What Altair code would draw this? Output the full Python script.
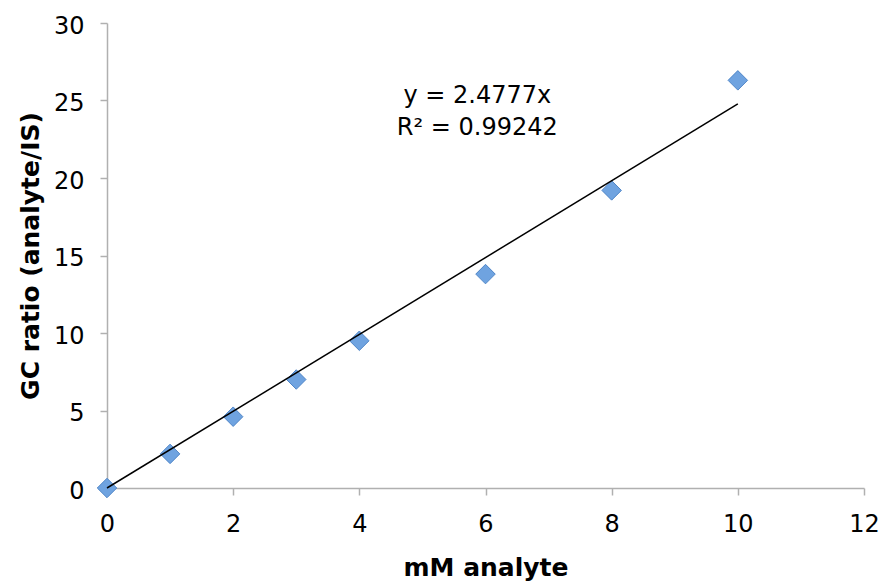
import altair as alt
import pandas as pd

# data
conc = [0, 1, 2, 3, 4, 6, 8, 10]
ratio = [0.0, 2.2, 4.6, 7.0, 9.5, 13.8, 19.2, 26.3]
slope = 2.4777
r2 = 0.99242
eq_lines = [f"y = {slope}x", f"R² = {r2}"]
eq_x = [5.87, 5.87]
eq_y = [25.3, 23.2]

pts = pd.DataFrame({"x": conc, "y": ratio})
fit = pd.DataFrame({"x": [min(conc), max(conc)], "y": [slope * min(conc), slope * max(conc)]})
ann = pd.DataFrame({"x": eq_x, "y": eq_y, "t": eq_lines})

FONT = "DejaVu Sans"
AXC = "#b0b0b0"

xs = alt.Scale(domain=[0, 12], nice=False, zero=True)
ys = alt.Scale(domain=[0, 30], nice=False, zero=True)

common = dict(grid=False, format="d", labelFlush=False,
              labelFontSize=24, labelFont=FONT, labelColor="black",
              titleFontSize=25, titleFont=FONT, titleFontWeight="bold", titleColor="black",
              domainColor=AXC, tickColor=AXC, tickSize=7, domainWidth=1.5, tickWidth=1.5)

xaxis = alt.Axis(values=list(range(0, 13, 2)), title="mM analyte",
                 labelPadding=17, titlePadding=19, **common)
yaxis = alt.Axis(values=list(range(0, 31, 5)), title="GC ratio (analyte/IS)",
                 labelPadding=16, titlePadding=10, labelOffset=3, **common)

line = alt.Chart(fit).mark_line(color="black", strokeWidth=1.5).encode(
    x=alt.X("x:Q", scale=xs, axis=xaxis),
    y=alt.Y("y:Q", scale=ys, axis=yaxis),
)

points = alt.Chart(pts).mark_point(shape="diamond", size=380, filled=True,
                                   fill="#6fa3e0", stroke="#5086c8", strokeWidth=1,
                                   opacity=1).encode(
    x=alt.X("x:Q", scale=xs),
    y=alt.Y("y:Q", scale=ys),
)

text = alt.Chart(ann).mark_text(fontSize=24, font=FONT, color="black", align="center",
                                baseline="middle").encode(
    x=alt.X("x:Q", scale=xs),
    y=alt.Y("y:Q", scale=ys),
    text="t:N",
)

chart = alt.layer(points, line, text).properties(
    width=757, height=465,
    autosize=alt.AutoSizeParams(type="none"),
    padding={"left": 107, "top": 23, "right": 22, "bottom": 95},
    background="white",
).configure_view(stroke=None)

chart.save("out.html", embed_options={"renderer": "svg", "actions": False})
